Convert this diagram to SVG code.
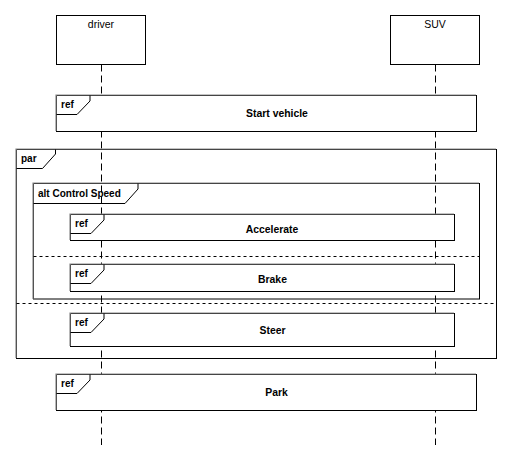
<svg xmlns="http://www.w3.org/2000/svg" width="512" height="459" viewBox="0 0 512 459">
<style>
.bg{fill:#fff}
.box{fill:#fff;stroke:#000;stroke-width:1}
.frame{fill:none;stroke:#000;stroke-width:1}
.hl{fill:none;stroke:#8a8a8a;stroke-width:1.2}
.tab{fill:none;stroke:#000;stroke-width:1}
.life{stroke:#000;stroke-width:1;stroke-dasharray:7,4;fill:none}
.sep{stroke:#000;stroke-width:1;stroke-dasharray:3,3;fill:none}
.name{font-family:"Liberation Sans",Arial,sans-serif;font-size:10.5px;fill:#000;text-anchor:middle}
.lbl{font-family:"Liberation Sans",Arial,sans-serif;font-size:10px;font-weight:bold;fill:#000}
.ctr{font-family:"Liberation Sans",Arial,sans-serif;font-size:10.4px;font-weight:bold;fill:#000;text-anchor:middle}
</style>
<rect class="bg" x="0" y="0" width="512" height="459"/>
<g id="connectors">
<line class="life" x1="101.5" y1="64.5" x2="101.5" y2="445"/>
<line class="life" x1="435.5" y1="64.5" x2="435.5" y2="445"/>
</g>
<g id="driver">
<rect class="box" x="56.5" y="15.5" width="89" height="49"/>
<text class="name" x="101" y="28">driver</text>
</g>
<g id="SUV">
<rect class="box" x="390.5" y="15.5" width="89" height="49"/>
<text class="name" x="435" y="28">SUV</text>
</g>
<g id="ref-start">
<rect class="box" x="56.5" y="95.5" width="420" height="36"/>
<path class="hl" d="M56 131 V95 H476"/>
<path class="tab" d="M56.5 114.5 H77 L90 101 V95.5"/>
<text class="lbl" x="61" y="108">ref</text>
<text class="ctr" x="277" y="117">Start vehicle</text>
</g>
<g id="par">
<rect class="frame" x="16.5" y="149.5" width="480" height="209"/>
<path class="hl" d="M16 358 V149 H496"/>
<path class="tab" d="M16.5 168.5 H42.5 L55.5 154 V149.5"/>
<text class="lbl" x="21" y="162">par</text>
<line class="sep" x1="16.5" y1="303.5" x2="496.5" y2="303.5"/>
</g>
<g id="alt">
<rect class="frame" x="33.5" y="183.5" width="446" height="115.5"/>
<path class="hl" d="M33 299 V183 H479"/>
<path class="tab" d="M33.5 203.5 H125 L138 189 V183.5"/>
<text class="lbl" x="38" y="197">alt Control  Speed</text>
<line class="sep" x1="33.5" y1="256.5" x2="479" y2="256.5"/>
</g>
<g id="ref-accelerate">
<rect class="box" x="70.5" y="214.5" width="384" height="26"/>
<path class="hl" d="M70 240 V214 H454"/>
<path class="tab" d="M70.5 233.5 H91 L104 220 V214.5"/>
<text class="lbl" x="75" y="227">ref</text>
<text class="ctr" x="272" y="233">Accelerate</text>
</g>
<g id="ref-brake">
<rect class="box" x="70.5" y="264.5" width="384" height="27"/>
<path class="hl" d="M70 291 V264 H454"/>
<path class="tab" d="M70.5 283.5 H91 L104 270 V264.5"/>
<text class="lbl" x="75" y="277">ref</text>
<text class="ctr" x="272.5" y="283">Brake</text>
</g>
<g id="ref-steer">
<rect class="box" x="70.5" y="313.5" width="384" height="33"/>
<path class="hl" d="M70 346 V313 H454"/>
<path class="tab" d="M70.5 332.5 H91 L104 319 V313.5"/>
<text class="lbl" x="75" y="326">ref</text>
<text class="ctr" x="272.5" y="334">Steer</text>
</g>
<g id="ref-park">
<rect class="box" x="56.5" y="374.5" width="420" height="36"/>
<path class="hl" d="M56 410 V374 H476"/>
<path class="tab" d="M56.5 393.5 H77 L90 380 V374.5"/>
<text class="lbl" x="61" y="387">ref</text>
<text class="ctr" x="276.5" y="396">Park</text>
</g>
</svg>
